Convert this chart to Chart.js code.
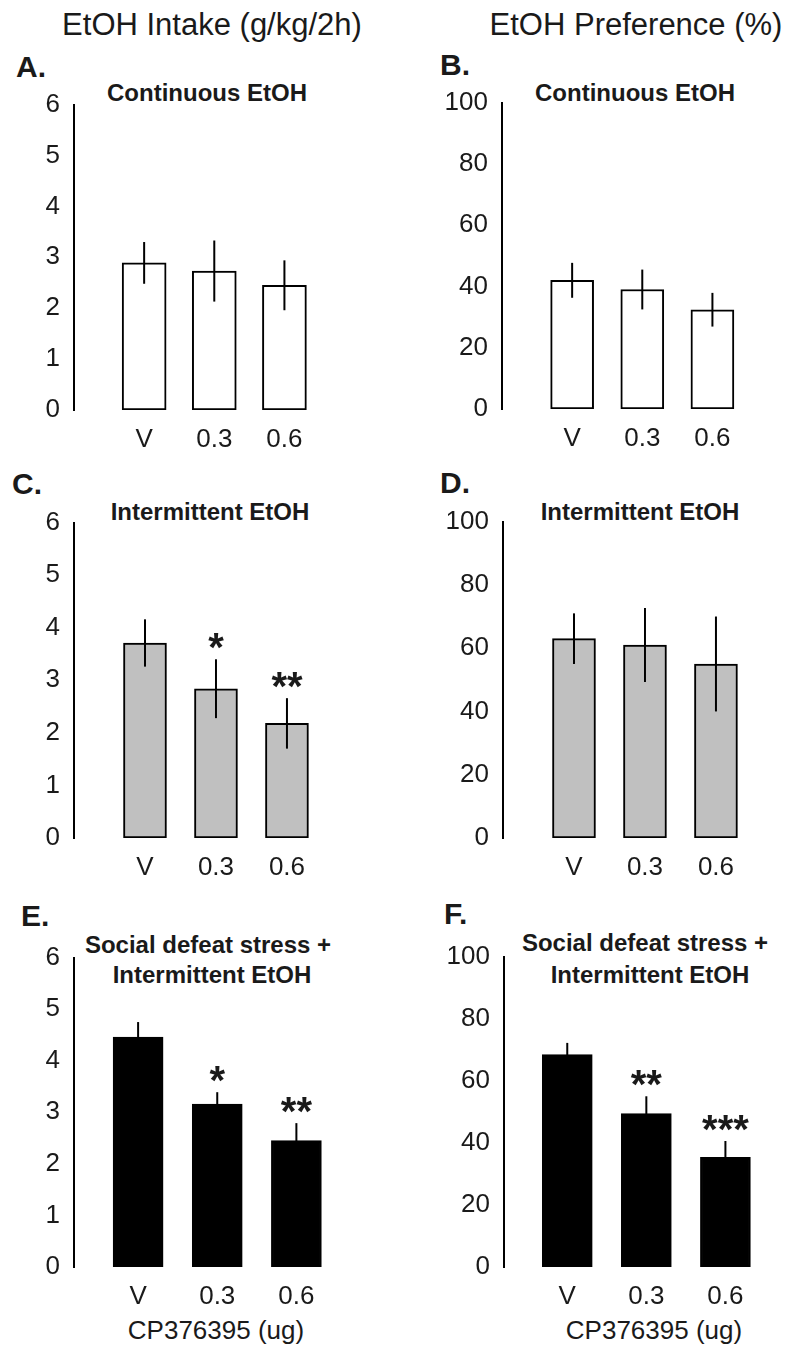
<!DOCTYPE html>
<html>
<head>
<meta charset="utf-8">
<script src="https://cdn.jsdelivr.net/npm/chart.js@4.4.1/dist/chart.umd.min.js"></script>
<style>
  body { margin: 0; background: #fff; width: 794px; height: 1349px; position: relative; overflow: hidden;
         font-family: "Liberation Sans", Arial, sans-serif; color: #1a1a1a; }
  canvas { position: absolute; }
  .t { position: absolute; white-space: nowrap; line-height: 1; transform: translate(-50%, -50%); }
  .head { font-size: 31px; }
  .sub { font-size: 24px; font-weight: bold; }
  .let { font-size: 30px; font-weight: bold; transform: translate(0, -50%); }
  .xt { font-size: 26px; }
</style>
</head>
<body>

<div class="t head" style="left:212px;top:24px">EtOH Intake (g/kg/2h)</div>
<div class="t head" style="left:636px;top:24px">EtOH Preference (%)</div>

<div class="t let" style="left:16px;top:67px">A.</div>
<div class="t let" style="left:440px;top:65px">B.</div>
<div class="t let" style="left:12px;top:484px">C.</div>
<div class="t let" style="left:440px;top:483px">D.</div>
<div class="t let" style="left:21px;top:916px">E.</div>
<div class="t let" style="left:444px;top:914px">F.</div>

<div class="t sub" style="left:207px;top:93px">Continuous EtOH</div>
<div class="t sub" style="left:635px;top:93px">Continuous EtOH</div>
<div class="t sub" style="left:210px;top:512px">Intermittent EtOH</div>
<div class="t sub" style="left:640px;top:512px">Intermittent EtOH</div>
<div class="t sub" style="left:208px;top:945px">Social defeat stress +</div>
<div class="t sub" style="left:212px;top:975px">Intermittent EtOH</div>
<div class="t sub" style="left:645px;top:943px">Social defeat stress +</div>
<div class="t sub" style="left:650px;top:975px">Intermittent EtOH</div>

<div class="t xt" style="left:216px;top:1330px">CP376395 (ug)</div>
<div class="t xt" style="left:654px;top:1330px">CP376395 (ug)</div>

<canvas id="cA"></canvas>
<canvas id="cB"></canvas>
<canvas id="cC"></canvas>
<canvas id="cD"></canvas>
<canvas id="cE"></canvas>
<canvas id="cF"></canvas>

<script>
// doses (x categories)
const doses = ['V', '0.3', '0.6'];

// y tick values
const intakeTicks = [0, 1, 2, 3, 4, 5, 6];
const prefTicks = [0, 20, 40, 60, 80, 100];

// continuous EtOH
const intakeContinuous = [2.89, 2.73, 2.45];
const intakeContinuousSem = [0.41, 0.60, 0.49];
const prefContinuous = [42.0, 39.0, 32.4];
const prefContinuousSem = [5.7, 6.5, 5.5];

// intermittent EtOH
const intakeIntermittent = [3.71, 2.84, 2.18];
const intakeIntermittentSem = [0.45, 0.56, 0.48];
const prefIntermittent = [63.0, 61.0, 55.0];
const prefIntermittentSem = [8.0, 11.7, 15.0];

// social defeat stress + intermittent EtOH
const intakeStress = [4.46, 3.16, 2.45];
const intakeStressSem = [0.29, 0.23, 0.34];
const prefStress = [68.4, 49.4, 35.3];
const prefStressSem = [3.8, 5.6, 5.3];

// significance marks
const sigNone = ['', '', ''];
const sigIntakeIntermittent = ['', '*', '**'];
const sigIntakeStress = ['', '*', '**'];
const sigPrefStress = ['', '**', '***'];

const Y_W = 74;   // y axis box width
const X_H = 46;   // x axis box height
const PAD_T = 20;
const PAD_R = 6;
const INK = '#1a1a1a';

// error bars + asterisks, drawn from the scales
const errorBars = {
    id: 'errorBars',
    afterDatasetsDraw(chart, args, opts) {
        const { ctx, scales: { x, y } } = chart;
        const vals = chart.data.datasets[0].data;
        ctx.save();
        ctx.strokeStyle = '#000';
        ctx.lineWidth = 2;
        vals.forEach((p, i) => {
            const px = x.getPixelForValue(p.x);
            const top = y.getPixelForValue(p.y + opts.sem[i]);
            const bot = y.getPixelForValue(p.y - opts.sem[i]);
            ctx.beginPath();
            ctx.moveTo(px, top);
            ctx.lineTo(px, bot);
            ctx.stroke();
            if (opts.sig[i]) {
                ctx.fillStyle = INK;
                ctx.font = 'bold 40px "Liberation Sans", Arial, sans-serif';
                ctx.textAlign = 'center';
                ctx.textBaseline = 'alphabetic';
                ctx.fillText(opts.sig[i], px, top + 2);
            }
        });
        ctx.restore();
    }
};

function makePanel(id, cfg) {
    const canvas = document.getElementById(id);
    const plotW = cfg.unit * (cfg.xMax - cfg.xMin);
    const w = Math.round(Y_W + plotW + PAD_R);
    const h = Math.round(cfg.bottom - cfg.top + PAD_T + X_H);
    canvas.width = w;
    canvas.height = h;
    canvas.style.width = w + 'px';
    canvas.style.height = h + 'px';
    canvas.style.left = (cfg.axis - Y_W) + 'px';
    canvas.style.top = (cfg.top - PAD_T) + 'px';

    new Chart(canvas.getContext('2d'), {
        type: 'bar',
        data: {
            datasets: [{
                data: cfg.values.map((v, i) => ({ x: i + 1, y: v })),
                backgroundColor: cfg.fill,
                borderColor: '#000',
                borderWidth: 2,
                borderSkipped: false,
                barThickness: cfg.bar
            }]
        },
        options: {
            responsive: false,
            devicePixelRatio: 1,
            animation: false,
            layout: { padding: { top: PAD_T, right: PAD_R, left: 0, bottom: 0 } },
            plugins: {
                legend: { display: false },
                tooltip: { enabled: false },
                errorBars: { sem: cfg.sem, sig: cfg.sig }
            },
            scales: {
                x: {
                    type: 'linear',
                    offset: false,
                    min: cfg.xMin,
                    max: cfg.xMax,
                    grid: { display: false, drawTicks: false },
                    border: { display: false },
                    afterBuildTicks: s => { s.ticks = doses.map((d, i) => ({ value: i + 1 })); },
                    afterFit: s => { s.height = X_H; },
                    ticks: {
                        autoSkip: false,
                        maxRotation: 0,
                        padding: 14,
                        color: INK,
                        font: { family: '"Liberation Sans", Arial, sans-serif', size: 26 },
                        callback: v => doses[Math.round(v) - 1]
                    }
                },
                y: {
                    min: 0,
                    max: cfg.ticks[cfg.ticks.length - 1],
                    grid: { display: false, drawTicks: false },
                    border: { display: true, color: '#000', width: 2 },
                    afterBuildTicks: s => { s.ticks = cfg.ticks.map(v => ({ value: v })); },
                    afterFit: s => { s.width = Y_W; },
                    ticks: {
                        padding: 14,
                        color: INK,
                        font: { family: '"Liberation Sans", Arial, sans-serif', size: 26 }
                    }
                }
            }
        },
        plugins: [errorBars]
    });
}

makePanel('cA', { axis: 74, top: 95, bottom: 410, unit: 70, xMin: 0, xMax: 3.55, bar: 44,
    values: intakeContinuous, sem: intakeContinuousSem, sig: sigNone, ticks: intakeTicks, fill: '#ffffff' });
makePanel('cB', { axis: 502, top: 93, bottom: 409, unit: 70, xMin: 0, xMax: 3.55, bar: 43,
    values: prefContinuous, sem: prefContinuousSem, sig: sigNone, ticks: prefTicks, fill: '#ffffff' });
makePanel('cC', { axis: 74, top: 513, bottom: 838, unit: 71, xMin: 0, xMax: 3.55, bar: 43,
    values: intakeIntermittent, sem: intakeIntermittentSem, sig: sigIntakeIntermittent, ticks: intakeTicks, fill: '#c0c0c0' });
makePanel('cD', { axis: 503, top: 512, bottom: 838, unit: 71, xMin: 0, xMax: 3.55, bar: 43,
    values: prefIntermittent, sem: prefIntermittentSem, sig: sigNone, ticks: prefTicks, fill: '#c0c0c0' });
makePanel('cE', { axis: 74, top: 948, bottom: 1267, unit: 79, xMin: 0.19, xMax: 3.45, bar: 50,
    values: intakeStress, sem: intakeStressSem, sig: sigIntakeStress, ticks: intakeTicks, fill: '#000000' });
makePanel('cF', { axis: 504, top: 947, bottom: 1267, unit: 79, xMin: 0.2, xMax: 3.45, bar: 50,
    values: prefStress, sem: prefStressSem, sig: sigPrefStress, ticks: prefTicks, fill: '#000000' });
</script>
</body>
</html>
